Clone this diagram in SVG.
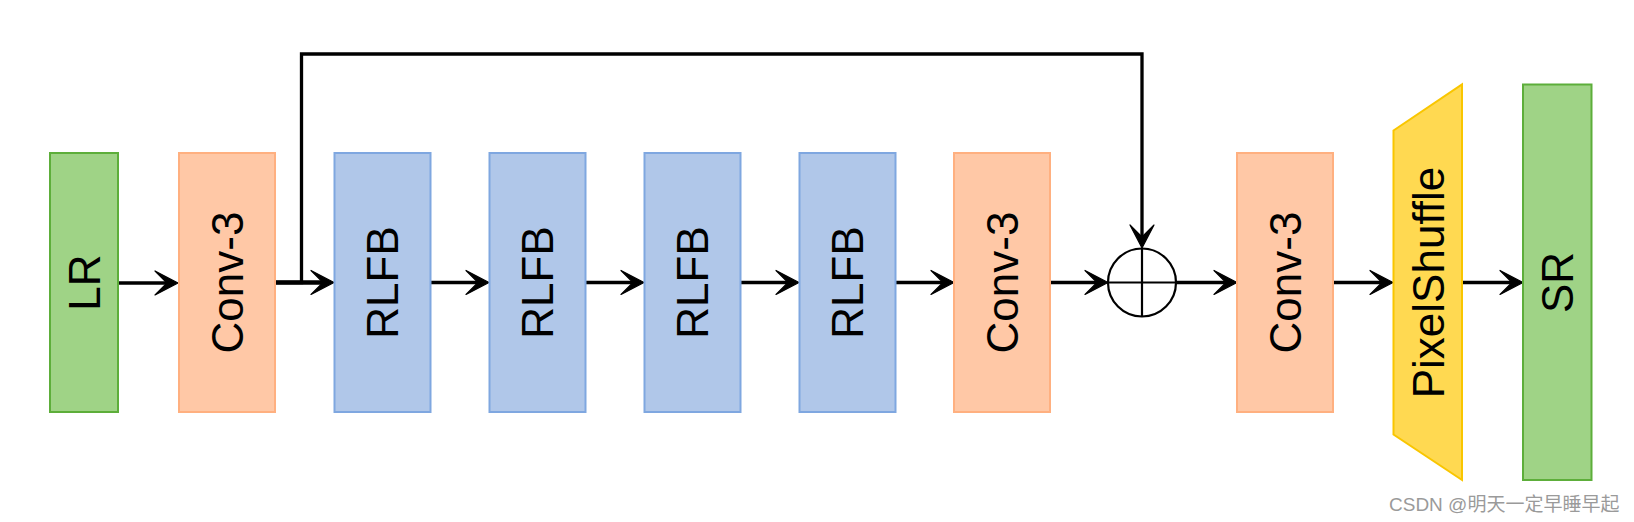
<svg xmlns="http://www.w3.org/2000/svg" width="1634" height="522" viewBox="0 0 1634 522">
<style>
.green{fill:#9FD386;stroke:#5DAE3A;stroke-width:2}
.orange{fill:#FFC8A6;stroke:#FFB080;stroke-width:2}
.blue{fill:#B0C7E9;stroke:#7FA7E0;stroke-width:2}
.yellow{fill:#FFD951;stroke:#F9C600;stroke-width:2}
.lbl{font-family:"Liberation Sans",Arial,sans-serif;font-size:44px;fill:#000;text-anchor:middle}
.edge{fill:none;stroke:#000;stroke-width:3.3}
.sum{fill:#fff;stroke:#000;stroke-width:2.2}
.wm{font-family:"Liberation Sans","Noto Sans CJK SC",sans-serif;font-size:19px;fill:#9a9a9a}
</style>
<defs>
<marker id="arr" markerUnits="userSpaceOnUse" viewBox="-15 -14 28 28" refX="0" refY="0" markerWidth="28" markerHeight="28" orient="auto" overflow="visible">
<path d="M10,0 L-13,-12 L-1,0 L-13,12 Z" fill="#000" stroke="#000" stroke-width="1.2" stroke-linejoin="round"/>
</marker>
</defs>
<g id="connectors">
<path class="edge" d="M118,283 H168" marker-end="url(#arr)"/>
<path class="edge" d="M275,282.5 H324" style="stroke-width:4.5" marker-end="url(#arr)"/>
<path class="edge" d="M275,282.5 H301.5 V54 H1142 V238" marker-end="url(#arr)"/>
<path class="edge" d="M430.5,282.5 H479" marker-end="url(#arr)"/>
<path class="edge" d="M585.5,282.5 H634" marker-end="url(#arr)"/>
<path class="edge" d="M740.5,282.5 H789" marker-end="url(#arr)"/>
<path class="edge" d="M895.5,282.5 H944" marker-end="url(#arr)"/>
<path class="edge" d="M1050,282.5 H1098" marker-end="url(#arr)"/>
<path class="edge" d="M1176,282.5 H1227" marker-end="url(#arr)"/>
<path class="edge" d="M1333,282.5 H1383" marker-end="url(#arr)"/>
<path class="edge" d="M1462,282.5 H1513" marker-end="url(#arr)"/>
</g>
<g id="lr">
<rect class="green" x="50" y="153" width="68" height="259"/>
<text class="lbl" transform="translate(84,282.5) rotate(-90)" y="15.8">LR</text>
</g>
<g id="conv1">
<rect class="orange" x="179" y="153" width="96" height="259"/>
<text class="lbl" transform="translate(227,282.5) rotate(-90)" y="15.8">Conv-3</text>
</g>
<g id="rlfb1">
<rect class="blue" x="334.5" y="153" width="96" height="259"/>
<text class="lbl" transform="translate(382.5,282.5) rotate(-90)" y="15.8">RLFB</text>
</g>
<g id="rlfb2">
<rect class="blue" x="489.5" y="153" width="96" height="259"/>
<text class="lbl" transform="translate(537.5,282.5) rotate(-90)" y="15.8">RLFB</text>
</g>
<g id="rlfb3">
<rect class="blue" x="644.5" y="153" width="96" height="259"/>
<text class="lbl" transform="translate(692.5,282.5) rotate(-90)" y="15.8">RLFB</text>
</g>
<g id="rlfb4">
<rect class="blue" x="799.5" y="153" width="96" height="259"/>
<text class="lbl" transform="translate(847.5,282.5) rotate(-90)" y="15.8">RLFB</text>
</g>
<g id="conv2">
<rect class="orange" x="954" y="153" width="96" height="259"/>
<text class="lbl" transform="translate(1002,282.5) rotate(-90)" y="15.8">Conv-3</text>
</g>
<g id="sum">
<circle class="sum" cx="1142" cy="282.5" r="34"/>
<path d="M1108,282.5 H1176 M1142,248.5 V316.5" stroke="#000" stroke-width="2.2" fill="none"/>
</g>
<g id="conv3">
<rect class="orange" x="1237" y="153" width="96" height="259"/>
<text class="lbl" transform="translate(1285,282.5) rotate(-90)" y="15.8">Conv-3</text>
</g>
<g id="pixelshuffle">
<polygon class="yellow" points="1393.5,130.5 1462,84.5 1462,480 1393.5,434.5"/>
<text class="lbl" transform="translate(1428,282.5) rotate(-90)" y="15.8">PixelShuffle</text>
</g>
<g id="sr">
<rect class="green" x="1523" y="84.5" width="68.5" height="395.5"/>
<text class="lbl" transform="translate(1557.2,282.5) rotate(-90)" y="15.8">SR</text>
</g>
<text class="wm" x="1389" y="511">CSDN @明天一定早睡早起</text>
</svg>
